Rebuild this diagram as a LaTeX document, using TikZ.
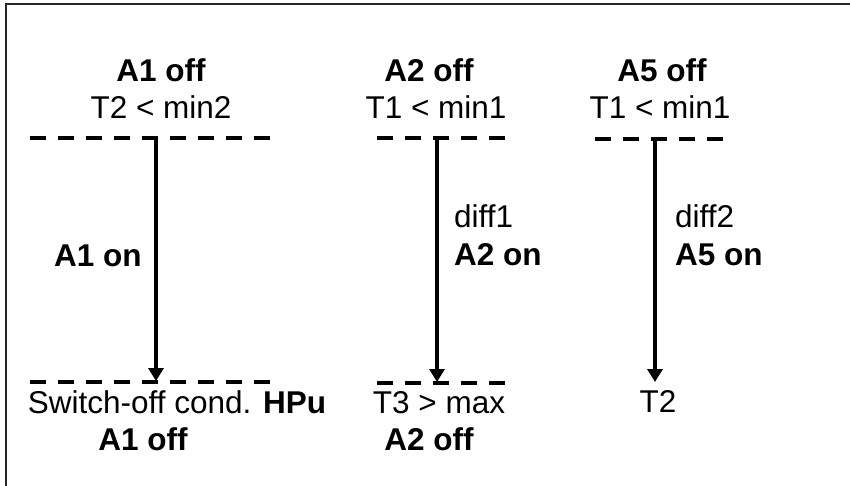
\documentclass[tikz,border=0pt]{standalone}
\usepackage{fontspec}
\setmainfont{Liberation Sans}
\usetikzlibrary{arrows.meta}
\begin{document}
\begin{tikzpicture}[x=1pt,y=-1pt,
  lbl/.style={inner sep=0pt, anchor=base, font=\fontsize{31.5}{36}\selectfont},
  lblw/.style={lbl, anchor=base west},
  bl/.style={lbl, font=\fontsize{31.5}{36}\selectfont\bfseries},
  blw/.style={bl, anchor=base west},
  level/.style={line width=4pt, dash pattern=on 16pt off 12pt},
  flow/.style={line width=4pt, -{Triangle[width=15pt,length=13pt]}}]
\useasboundingbox (0,0) rectangle (850,486);
\coordinate (fb) at (6,490);
\coordinate (fc) at (6,4);
\coordinate (fr) at (856,4);
\draw[line width=2pt, black!85] (fb) -- (fc) -- (fr);

% column 1
\node[bl] (a1off) at (161,82) {A1 off};
\node[lbl] (c1top) at (161,119) {T2 < min2};
\coordinate (d1l) at (30,138);
\coordinate (d1r) at (270,138);
\coordinate (b1l) at (30,382);
\coordinate (b1r) at (270,382);
\draw[level] (d1l) -- (d1r);
\draw[level] (b1l) -- (b1r);
\coordinate (s1) at (156,138);
\coordinate (e1) at (156,381);
\draw[flow] (s1) -- (e1);
\node[bl] (a1on) at (98,266) {A1 on};
\node[lbl] (c1bot) at (177,413) {Switch-off cond. \textbf{HPu}};
\node[bl] (a1offb) at (143,450) {A1 off};

% column 2
\node[bl] (a2off) at (429,82) {A2 off};
\node[lbl] (c2top) at (436,119) {T1 < min1};
\coordinate (d2l) at (377,138);
\coordinate (d2r) at (505,138);
\coordinate (b2l) at (377,383);
\coordinate (b2r) at (505,383);
\draw[level] (d2l) -- (d2r);
\draw[level] (b2l) -- (b2r);
\coordinate (s2) at (437,138);
\coordinate (e2) at (437,382);
\draw[flow] (s2) -- (e2);
\node[lblw] (diff1) at (454,228) {diff1};
\node[blw] (a2on) at (454,265) {A2 on};
\node[lbl] (c2bot) at (439,413) {T3 > max};
\node[bl] (a2offb) at (429,450) {A2 off};

% column 3
\node[bl] (a5off) at (662,82) {A5 off};
\node[lbl] (c3top) at (660,119) {T1 < min1};
\coordinate (d3l) at (595,139);
\coordinate (d3r) at (723,139);
\draw[level] (d3l) -- (d3r);
\coordinate (s3) at (655,139);
\coordinate (e3) at (655,382);
\draw[flow] (s3) -- (e3);
\node[lblw] (diff2) at (675,228) {diff2};
\node[blw] (a5on) at (675,265) {A5 on};
\node[lbl] (t2) at (658,412) {T2};
\end{tikzpicture}
\end{document}
